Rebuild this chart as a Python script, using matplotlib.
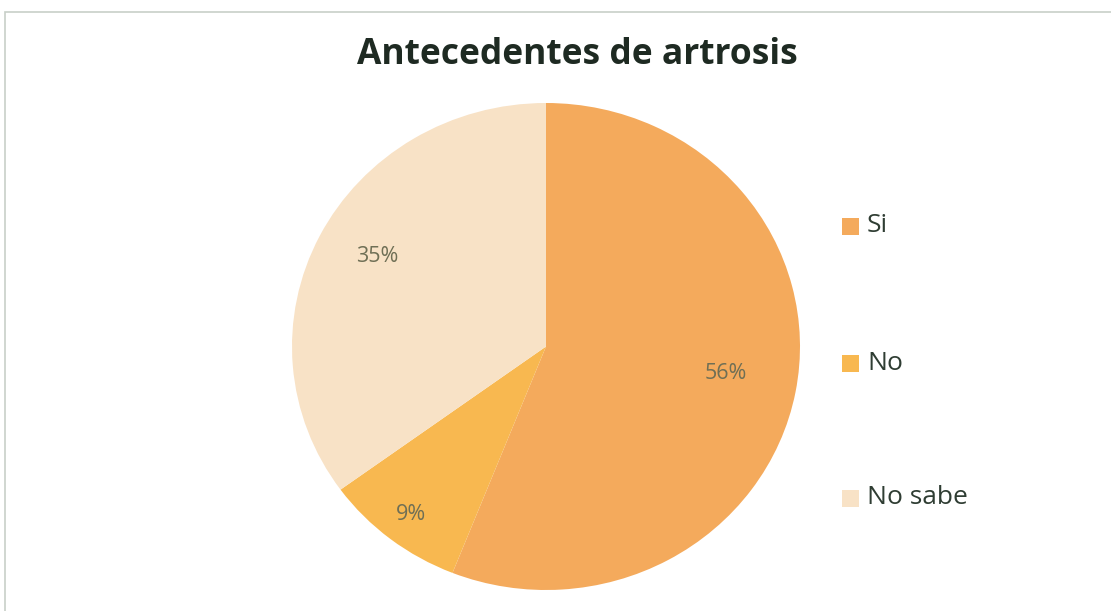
import numpy as np
import matplotlib
matplotlib.use('Agg')
import matplotlib.pyplot as plt
from matplotlib.patches import Rectangle

title = 'Antecedentes de artrosis'
labels = ['Si', 'No', 'No sabe']
values = [56, 9, 35]
colors = ['#F4AA5C', '#F8B850', '#F8E2C6']
label_dist = [0.70, 0.90, 0.77]

fig = plt.figure(figsize=(11.11, 6.11), dpi=100)
fig.patch.set_facecolor('white')

# outer chart frame
fig.add_artist(Rectangle((5 / 1111, -0.05), 1.2, (611 - 12) / 611 + 0.05,
                         transform=fig.transFigure, fill=False,
                         edgecolor='#c8cfc8', linewidth=1.2))

ax = fig.add_axes([292 / 1111, 21 / 611, 508 / 1111, 487 / 611])
wedges, _ = ax.pie(values, colors=colors, startangle=90, counterclock=False,
                   wedgeprops=dict(linewidth=0))
ax.set_aspect('auto')
ax.set_xlim(-1, 1)
ax.set_ylim(-1, 1)

for w, v, d in zip(wedges, values, label_dist):
    mid = np.deg2rad((w.theta1 + w.theta2) / 2)
    ax.text(d * np.cos(mid) + 0.02, d * np.sin(mid) + 0.02, '%d%%' % v, ha='center', va='center',
            fontsize=15.5, color='#6f6f55', family='Open Sans')

fig.text(577 / 1111, 0.91, title, ha='center', va='center', fontsize=25.5,
         fontweight='bold', color='#1e2a22', family='Open Sans')

ys = [226, 363, 498]
for lab, c, y in zip(labels, colors, ys):
    fy = (611 - y) / 611
    fig.add_artist(Rectangle((842 / 1111, fy - 8.5 / 611), 17 / 1111, 17 / 611,
                             transform=fig.transFigure, facecolor=c, edgecolor='none'))
    fig.text(867 / 1111, fy, lab, ha='left', va='center', fontsize=19,
             color='#2f3d33', family='Open Sans')

fig.savefig('out.png', dpi=100)
